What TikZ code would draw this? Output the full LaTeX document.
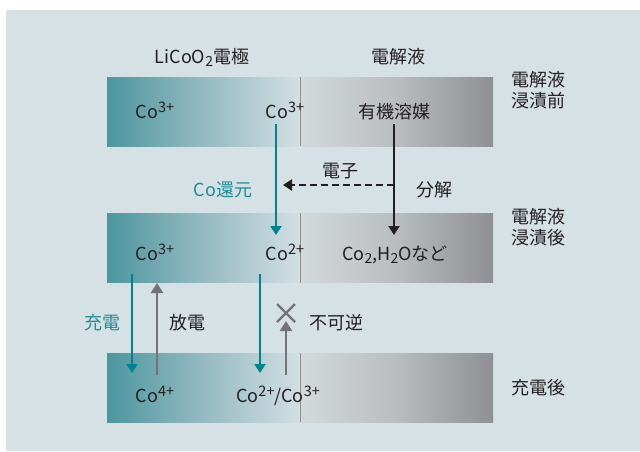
\documentclass[tikz,border=0pt]{standalone}
\usepackage{fontspec}
\setmainfont{Noto Sans CJK JP}
\usetikzlibrary{arrows.meta, positioning, calc}
\definecolor{bgblue}{HTML}{D6E1E5}
\definecolor{tealdark}{HTML}{4D969F}
\definecolor{tealmid}{HTML}{95BAC2}
\definecolor{teallight}{HTML}{D2DFE3}
\definecolor{graylight}{HTML}{D4D9DB}
\definecolor{graymid}{HTML}{B9BDBF}
\definecolor{graydark}{HTML}{8E9093}
\definecolor{tealline}{HTML}{00838F}
\definecolor{tealtext}{HTML}{1E8C98}
\definecolor{inkdark}{HTML}{231F20}
\definecolor{arrowgray}{HTML}{737476}
\newcommand\ionsup[1]{\raisebox{6pt}{\fontsize{14.5}{14}\selectfont #1}}
\newcommand\ionsub[1]{\raisebox{-3.5pt}{\fontsize{14}{14}\selectfont #1}}
\tikzset{
    cellfig/.style={x=1pt, y=-1pt, font=\fontsize{18}{21}\selectfont},
    elecbox/.style={rectangle, inner sep=0pt, minimum width=193pt, minimum height=69pt,
        left color=tealdark, right color=teallight, middle color=tealmid},
    solvbox/.style={rectangle, inner sep=0pt, minimum width=193pt, minimum height=69pt,
        left color=graylight, right color=graydark, middle color=graymid},
    divider/.style={draw=graydark, line width=0.8pt},
    label/.style={text=inkdark, anchor=base, inner sep=0pt, align=center},
    tlabel/.style={label, text=tealtext},
    % arrows between the states
    tealarrow/.style={draw=tealline, line width=2.2pt, -{Triangle[width=11pt,length=9pt]}},
    blackarrow/.style={draw=inkdark, line width=2.4pt, -{Triangle[width=11pt,length=9pt]}},
    grayarrow/.style={draw=arrowgray, line width=2.8pt, -{Triangle[width=12pt,length=10pt]}},
    elecarrow/.style={blackarrow, line width=2.2pt, dash pattern=on 7pt off 4pt},
    cross/.style={draw=arrowgray, line width=2.2pt},
}
\begin{document}
\begin{tikzpicture}[cellfig]
    \useasboundingbox (0,0) rectangle (640,451);
    \fill[bgblue] (6,10) rectangle (640,451);

    % three states of the cell
    \node[elecbox] (elecA) at (203.5,111.5) {};
    \node[solvbox] (solvA) at (396.5,111.5) {};
    \node[elecbox] (elecB) at (203.5,248) {};
    \node[solvbox] (solvB) at (396.5,248) {};
    \node[elecbox] (elecC) at (203.5,387.5) {};
    \node[solvbox] (solvC) at (396.5,387.5) {};
    \foreach \b in {elecA, elecB, elecC}
        \draw[divider] (\b.north east) -- (\b.south east);

    % headings
    \node[label] (hElec) at (202,63) {LiCoO\ionsub{2}電極};
    \node[label] (hSolv) at (398,63) {電解液};
    \node[label] (sBefore) at (538,107) {電解液\\浸漬前};
    \node[label] (sAfter)  at (538,244) {電解液\\浸漬後};
    \node[label] (sCharge) at (538,394) {充電後};

    % ions and solvent
    \node[label] (coA1) at (155,118) {Co\ionsup{3+}};
    \node[label] (coA2) at (285,118) {Co\ionsup{3+}};
    \node[label] (solvent) at (394,118) {有機溶媒};
    \node[label] (coB1) at (155,260) {Co\ionsup{3+}};
    \node[label] (coB2) at (285,260) {Co\ionsup{2+}};
    \node[label] (product) at (395,260) {Co\ionsub{2},H\ionsub{2}Oなど};
    \node[label] (coC1) at (155,402) {Co\ionsup{4+}};
    \node[label] (coC2) at (278,402) {Co\ionsup{2+}/Co\ionsup{3+}};

    % reaction labels
    \node[label]  (electron) at (340,177) {電子};
    \node[tlabel] (reduce)   at (223,196) {Co還元};
    \node[label]  (decomp)   at (434,196) {分解};
    \node[tlabel] (charge)   at (102,329) {充電};
    \node[label]  (dischg)   at (187,329) {放電};
    \node[label]  (irrev)    at (336,329) {不可逆};

    \coordinate (redTop) at (276,124);
    \coordinate (redBot) at (276,235);
    \coordinate (decTop) at (394,124);
    \coordinate (decBot) at (394,235);
    \coordinate (eStart) at (394,185);
    \coordinate (eEnd)   at (283,185);
    \coordinate (chgTop) at (132,274);
    \coordinate (chgBot) at (132,373);
    \coordinate (disBot) at (157,375);
    \coordinate (disTop) at (157,283);
    \coordinate (irTop)  at (260,274);
    \coordinate (irBot)  at (260,373);
    \coordinate (revBot) at (286,375);
    \coordinate (revTop) at (286,321);
    \coordinate (xMark)  at (286,313);

    \draw[tealarrow]  (redTop) -- (redBot);
    \draw[blackarrow] (decTop) -- (decBot);
    \draw[elecarrow]  (eStart) -- (eEnd);
    \draw[tealarrow]  (chgTop) -- (chgBot);
    \draw[grayarrow]  (disBot) -- (disTop);
    \draw[tealarrow]  (irTop) -- (irBot);
    \draw[grayarrow]  (revBot) -- (revTop);
    \draw[cross] ($(xMark)+(-9,-9)$) -- ($(xMark)+(9,9)$)
                 ($(xMark)+(-9,9)$) -- ($(xMark)+(9,-9)$);
\end{tikzpicture}
\end{document}
